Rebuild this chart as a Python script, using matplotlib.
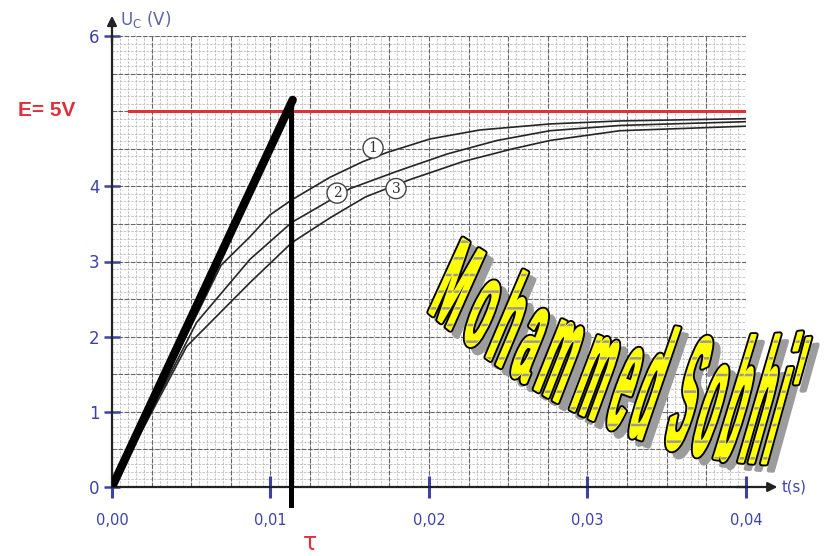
import numpy as np
import matplotlib
matplotlib.use("Agg")
import matplotlib.pyplot as plt
from matplotlib.textpath import TextPath, text_to_path
from matplotlib.font_manager import FontProperties
from matplotlib.patches import PathPatch
from matplotlib.path import Path

# values (t in s, Uc in V)
t_tangent = [0.0, 0.0114]
u_tangent = [0.0, 5.15]
tau = 0.0113
E = 5.0

t1 = [0.0, 0.00688, 0.00871, 0.00997, 0.01134, 0.01375, 0.01584, 0.01735, 0.02006, 0.02322, 0.02763, 0.03205, 0.0400]
u1 = [0.0, 2.95, 3.33, 3.62, 3.82, 4.12, 4.33, 4.45, 4.63, 4.75, 4.83, 4.87, 4.90]

t2 = [0.0, 0.00534, 0.00871, 0.01134, 0.01331, 0.01502, 0.01798, 0.02114, 0.02429, 0.02763, 0.03205, 0.0400]
u2 = [0.0, 2.19, 3.03, 3.52, 3.76, 3.97, 4.20, 4.43, 4.61, 4.74, 4.81, 4.86]

t3 = [0.0, 0.00471, 0.00871, 0.01134, 0.01375, 0.01600, 0.0188, 0.02215, 0.0253, 0.02763, 0.03205, 0.0400]
u3 = [0.0, 1.87, 2.72, 3.25, 3.58, 3.86, 4.09, 4.33, 4.50, 4.61, 4.74, 4.80]

xticks = [0.0, 0.01, 0.02, 0.03, 0.04]
xlabels = ["0,00", "0,01", "0,02", "0,03", "0,04"]
yticks = [0, 1, 2, 3, 4, 6]
ylabels = ["0", "1", "2", "3", "4", "6"]

curve_names = ["1", "2", "3"]
name_pos = [(0.01647, 4.51), (0.01420, 3.91), (0.01792, 3.97)]

watermark = "Mohammed Sobhi'"

W_PX, H_PX = 837, 556
blue = "#3c42a8"
red = "#e0303a"


def px(x, y):
    return x / W_PX, 1 - y / H_PX


fig = plt.figure(figsize=(W_PX / 100, H_PX / 100), dpi=100)
fig.patch.set_facecolor("white")
l, b = px(112, 487)
ax = fig.add_axes([l, b, (746 - 112) / W_PX, (487 - 36) / H_PX])
ax.set_xlim(0, 0.04)
ax.set_ylim(0, 6)

# graph paper
for x in np.arange(0, 0.04001, 0.0005):
    ax.axvline(x, color="#bdbdbd", lw=0.6, ls=(0, (3, 1.5)), zorder=0)
for y in np.arange(0, 6.001, 0.1):
    ax.axhline(y, color="#bdbdbd", lw=0.6, ls=(0, (3, 1.5)), zorder=0)
for x in np.arange(0, 0.04001, 0.0025):
    ax.axvline(x, color="#666666", lw=0.8, ls=(0, (4, 1.5)), zorder=0)
for y in np.arange(0, 6.001, 0.5):
    ax.axhline(y, color="#666666", lw=0.8, ls=(0, (4, 1.5)), zorder=0)

for s in ["top", "right"]:
    ax.spines[s].set_visible(False)
for s in ["left", "bottom"]:
    ax.spines[s].set_linewidth(1.6)
    ax.spines[s].set_color("#222222")

ax.set_xticks(xticks)
ax.set_xticklabels(xlabels)
ax.set_yticks(yticks)
ax.set_yticklabels(ylabels)
ax.tick_params(axis="x", direction="inout", length=16, width=2.2, color=blue,
               labelcolor=blue, labelsize=10.5, pad=11)
ax.tick_params(axis="y", direction="inout", length=12, width=1.8, color=blue,
               labelcolor=blue, labelsize=12, pad=3)

ax.plot(t1, u1, color="#262626", lw=1.2, zorder=3)
ax.plot(t2, u2, color="#262626", lw=1.2, zorder=3)
ax.plot(t3, u3, color="#262626", lw=1.2, zorder=3)
ax.plot([0.0011, 0.04], [E, E], color=red, lw=2.2, zorder=4)
ax.plot(t_tangent, u_tangent, color="black", lw=6, solid_capstyle="round", zorder=5)
ax.plot([tau, tau], [-0.24, u_tangent[1]], color="black", lw=3.6, clip_on=False, zorder=5)

for name, (x, y) in zip(curve_names, name_pos):
    ax.text(x, y, name, ha="center", va="center", fontsize=10, family="DejaVu Serif",
            color="#333333", zorder=6,
            bbox=dict(boxstyle="circle,pad=0.22", fc="white", ec="#444444", lw=1))

# axis arrows
ax.annotate("", xy=(1.054, 0), xytext=(0.98, 0), xycoords="axes fraction",
            arrowprops=dict(arrowstyle="-|>", color="#222222", lw=1.6, mutation_scale=14))
ax.annotate("", xy=(0, 1.051), xytext=(0, 0.98), xycoords="axes fraction",
            arrowprops=dict(arrowstyle="-|>", color="#222222", lw=1.6, mutation_scale=14))

fig.text(*px(120, 20), "U$_\\mathrm{C}$ (V)", color="#5a64a8", fontsize=12, ha="left", va="center")
fig.text(*px(782, 487), "t(s)", color=blue, fontsize=10.5, ha="left", va="center")
fig.text(*px(47, 111), "E= 5V", color=red, fontsize=15, fontweight="bold",
         family="Liberation Sans", ha="center", va="center")
fig.text(*px(310, 543), "τ", color=red, fontsize=17, ha="center", va="center")

# WordArt style watermark: glyphs squeezed a little so gaps show between them
fp = FontProperties(family="Liberation Sans", weight="bold")
pieces, cursor = [], 0.0
for ch in watermark:
    adv = text_to_path.get_text_width_height_descent(ch, fp, ismath=False)[0]
    adv = adv / fp.get_size_in_points()
    if ch.strip():
        g = TextPath((0, 0), ch, size=1, prop=fp)
        gv = g.vertices.copy()
        gv[:, 0] = cursor + 0.12 * adv + 0.76 * gv[:, 0]
        pieces.append(Path(gv, g.codes))
    cursor += adv
glyphs = Path.make_compound_path(*pieces)
verts = glyphs.vertices
W = cursor
u = verts[:, 0] / W
v = verts[:, 1] / 0.716
height = 76 + 56 * u
slant = 0.46 - 0.19 * u
bx = 423 + 356 * u
by = 307 + 310 * u - 153 * u ** 2
X = bx + slant * v * height
Y = by - v * height


def wm_path(dx, dy):
    fx = (X + dx) / W_PX
    fy = 1 - (Y + dy) / H_PX
    return Path(np.column_stack([fx, fy]), glyphs.codes)


plt.rcParams["hatch.linewidth"] = 1.8
fig.add_artist(PathPatch(wm_path(7, 7), transform=fig.transFigure,
                         fc="#9c9c9c", ec="#9c9c9c", lw=3, joinstyle="round", zorder=10))
fig.add_artist(PathPatch(wm_path(0, 0), transform=fig.transFigure,
                         fc="black", ec="black", lw=4, joinstyle="round", zorder=11))
fig.add_artist(PathPatch(wm_path(0, 0), transform=fig.transFigure,
                         fc="#ffff00", ec="#ffff00", lw=1.3, joinstyle="round", zorder=12))
fig.add_artist(PathPatch(wm_path(0, 0), transform=fig.transFigure,
                         fc="none", ec="#9a9a9a", lw=0, hatch="-", zorder=13))

fig.savefig("out.png", dpi=100, facecolor="white")
